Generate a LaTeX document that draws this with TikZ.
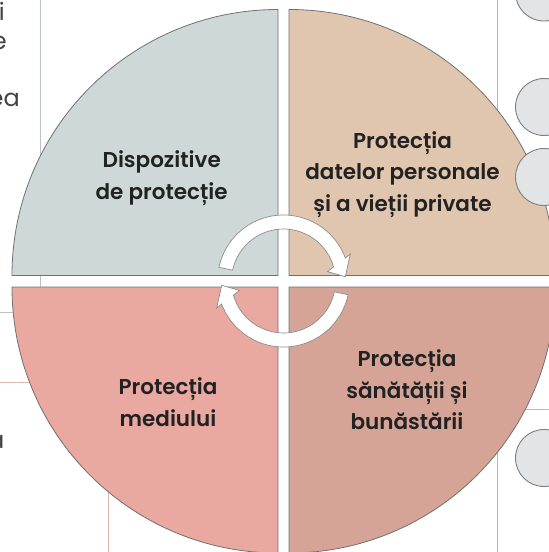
\documentclass[tikz,border=0pt]{standalone}
\usepackage{fontspec}
\setmainfont{Poppins}
\newfontfamily\labfont{Poppins}[UprightFont=* SemiBold]
\definecolor{qtl}{HTML}{CFD8D8}
\definecolor{qtr}{HTML}{E1C6AF}
\definecolor{qbl}{HTML}{E9A8A0}
\definecolor{qbr}{HTML}{D6A496}
\definecolor{qedge}{HTML}{707070}
\definecolor{linegray}{HTML}{BAC4C4}
\definecolor{linepink}{HTML}{E2B8B2}
\definecolor{linebrown}{HTML}{CDB1A9}
\definecolor{dotfill}{HTML}{E3E4E6}
\definecolor{txt}{HTML}{222222}
\tikzset{
  quad/.style={draw=qedge, line width=0.8pt},
  lab/.style={align=center, text=txt, font=\labfont\fontsize{21.5}{31.5}\selectfont},
  frag/.style={inner sep=0pt, text=txt!85, font=\fontsize{24}{28}\selectfont},
  bgline/.style={line width=0.9pt},
  dot/.style={draw=qedge!90, fill=dotfill, line width=0.9pt},
  arrowst/.style={draw=qedge!80, fill=white, line width=0.7pt, line join=miter}
}
\begin{document}
\begin{tikzpicture}[x=1pt,y=1pt]
\useasboundingbox (0,0) rectangle (549,-552);
% background lines
\draw[bgline, linegray] (40,0) -- (40,-287);
\draw[bgline, linegray] (0,-312.7) -- (40,-312.7);
\draw[bgline, linepink] (0,-382) -- (120,-382);
\draw[bgline, linepink] (108,-382) -- (108,-552);
\draw[bgline, linebrown] (497,0) -- (497,-200);
\draw[bgline, linebrown] (480,-409) -- (549,-409);
\draw[bgline, linebrown] (497,-409) -- (497,-552);
% text fragments on the left
\node[frag, anchor=base east] (f1) at (5,-20) {i};
\node[frag, anchor=base east] (f2) at (7,-49) {e};
\node[frag, anchor=base east] (f3) at (20,-106) {ea};
\node[frag, anchor=base east] (f4) at (4.5,-448) {ă};
% quadrants
\draw[quad, fill=qtl] (278,-275.5) -- (12,-275.5) arc[start angle=180, end angle=90, radius=266pt] -- cycle;
\draw[quad, fill=qtr] (289,-275.5) -- (289,-9.5) arc[start angle=90, end angle=0, radius=266pt] -- cycle;
\draw[quad, fill=qbl] (278,-287) -- (278,-553) arc[start angle=270, end angle=180, radius=266pt] -- cycle;
\draw[quad, fill=qbr] (289,-287) -- (555,-287) arc[start angle=0, end angle=-90, radius=266pt] -- cycle;
% circles on the right
\node[dot, circle, minimum size=57pt, inner sep=0pt] (c1) at (544,7.5) {};
\node[dot, circle, minimum size=57pt, inner sep=0pt] (c2) at (544,-107) {};
\node[dot, circle, minimum size=57pt, inner sep=0pt] (c3) at (544,-177) {};
\node[dot, circle, minimum size=57pt, inner sep=0pt] (c4) at (544,-458) {};
% labels
\node[lab] (tl) at (161.7,-178) {Dispozitive\\de protecție};
\node[lab] (tr) at (402.5,-174.5) {Protecția\\datelor personale\\și a vieții private};
\node[lab] (bl) at (168,-402) {Protecția\\mediului};
\node[lab] (br) at (407,-390) {Protecția\\sănătății și\\bunăstării};
% circular arrows
\path[arrowst, shift={(283.5,-281)}]
  (168:66pt) arc[start angle=168, end angle=20.4, radius=66pt]
  -- (66.8,27) -- (61.8,4.3) -- (44,9.4) -- (15.75:52pt)
  arc[start angle=15.75, end angle=168, radius=52pt] -- cycle;
\path[arrowst, shift={(283.5,-281)}, rotate=180]
  (168:66pt) arc[start angle=168, end angle=20.4, radius=66pt]
  -- (66.8,27) -- (61.8,4.3) -- (44,9.4) -- (15.75:52pt)
  arc[start angle=15.75, end angle=168, radius=52pt] -- cycle;
\end{tikzpicture}
\end{document}
